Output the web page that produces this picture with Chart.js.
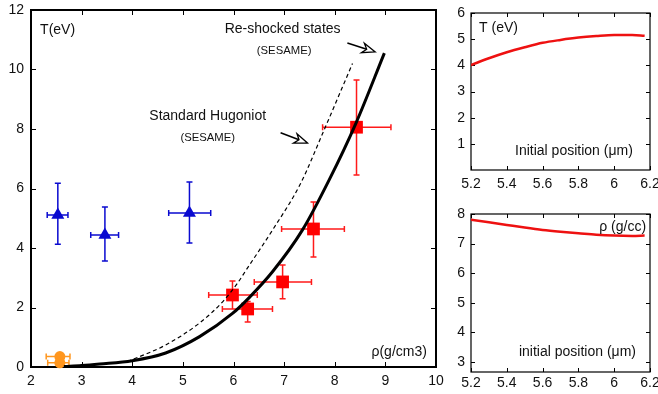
<!DOCTYPE html>
<html>
<head>
<meta charset="utf-8">
<script src="https://cdn.jsdelivr.net/npm/chart.js@4.4.1/dist/chart.umd.min.js"></script>
<style>
    html, body { margin: 0; padding: 0; background: #fff; overflow: hidden; width: 658px; height: 394px; }
    canvas { position: absolute; }
    #mainChart { left: 0; top: 0; }
    #tempChart { left: 440px; top: 0; }
    #rhoChart { left: 440px; top: 197px; }
</style>
</head>
<body>
<canvas id="mainChart" width="445" height="394"></canvas>
<canvas id="tempChart" width="230" height="197"></canvas>
<canvas id="rhoChart" width="230" height="197"></canvas>
<script>
// ---- main panel : T (eV) vs rho (g/cm3) ----
const mainXTicks = [2, 3, 4, 5, 6, 7, 8, 9, 10];
const mainYTicks = [0, 2, 4, 6, 8, 10, 12];

const hugoniotRho = [2.65, 3.0, 3.36, 4.0, 4.66, 5.33, 5.98, 6.32, 6.77, 7.36, 7.89, 8.42, 8.98];
const hugoniotT   = [0.02, 0.05, 0.10, 0.21, 0.47, 1.02, 1.80, 2.35, 3.20, 4.60, 6.29, 8.20, 10.55];

const reshockRho = [3.9, 4.0, 4.66, 5.33, 5.79, 6.08, 6.25, 6.77, 7.32, 7.76, 8.35];
const reshockT   = [0.18, 0.25, 0.74, 1.48, 2.20, 2.82, 3.26, 4.60, 6.15, 7.85, 10.2];

const redRho   = [5.98, 6.28, 6.97, 7.58, 8.43];
const redT     = [2.42, 1.95, 2.86, 4.64, 8.06];
const redRhoLo = [5.51, 5.78, 6.41, 6.95, 7.76];
const redRhoHi = [6.47, 6.77, 7.54, 8.19, 9.11];
const redTLo   = [1.95, 1.51, 2.29, 3.70, 6.45];
const redTHi   = [2.89, 2.20, 3.43, 5.55, 9.65];

const blueRho   = [2.53, 3.46, 5.13];
const blueT     = [5.11, 4.44, 5.18];
const blueRhoLo = [2.32, 3.18, 4.72];
const blueRhoHi = [2.73, 3.73, 5.55];
const blueTLo   = [4.13, 3.56, 4.17];
const blueTHi   = [6.18, 5.38, 6.22];

const orangeRho   = [2.57, 2.57];
const orangeT     = [0.35, 0.14];
const orangeRhoLo = [2.30, 2.33];
const orangeRhoHi = [2.77, 2.75];

// ---- right panels : profiles vs initial position (um) ----
const posTicks  = [5.2, 5.4, 5.6, 5.8, 6.0, 6.2];
const tempTicks = [1, 2, 3, 4, 5, 6];
const rhoTicks  = [3, 4, 5, 6, 7, 8];

const position = [5.2, 5.3, 5.4, 5.5, 5.6, 5.7, 5.8, 5.9, 6.0, 6.1, 6.17];
const tempProf = [4.01, 4.27, 4.50, 4.69, 4.86, 4.97, 5.06, 5.12, 5.16, 5.16, 5.13];
const rhoProf  = [7.81, 7.72, 7.63, 7.54, 7.46, 7.40, 7.35, 7.30, 7.27, 7.26, 7.27];

const pts = (xs, ys) => xs.map((x, i) => ({ x: x, y: ys[i] }));

const FONT = '"Liberation Sans", Arial, Helvetica, sans-serif';
Chart.defaults.font.family = FONT;
Chart.defaults.font.size = 14;
Chart.defaults.color = '#111';

// box around the plot with ticks pointing inward on all four sides
const framePlugin = {
    id: 'frame',
    beforeDatasetsDraw(chart, args, opts) {
        const { ctx, chartArea: a, scales: { x, y } } = chart;
        const len = opts.tickLength || 5;
        ctx.save();
        ctx.strokeStyle = '#000';
        ctx.lineWidth = 1;
        ctx.beginPath();
        x.ticks.forEach(t => {
            const px = Math.round(x.getPixelForValue(t.value)) + 0.5;
            ctx.moveTo(px, a.bottom); ctx.lineTo(px, a.bottom - len);
            ctx.moveTo(px, a.top); ctx.lineTo(px, a.top + len);
        });
        y.ticks.forEach(t => {
            const py = Math.round(y.getPixelForValue(t.value)) + 0.5;
            ctx.moveTo(a.left, py); ctx.lineTo(a.left + len, py);
            ctx.moveTo(a.right, py); ctx.lineTo(a.right - len, py);
        });
        ctx.stroke();
        ctx.lineWidth = opts.lineWidth || 1;
        ctx.strokeRect(a.left, a.top, a.right - a.left, a.bottom - a.top);
        ctx.restore();
    }
};

// horizontal / vertical error bars with small caps
const errorBarPlugin = {
    id: 'errorBars',
    beforeDatasetsDraw(chart, args, opts) {
        if (!opts.sets) return;
        const { ctx, scales: { x, y } } = chart;
        const cap = 3;
        ctx.save();
        ctx.lineWidth = 1.5;
        opts.sets.forEach(s => {
            ctx.strokeStyle = s.color;
            ctx.beginPath();
            s.x.forEach((xv, i) => {
                const px = x.getPixelForValue(xv);
                const py = y.getPixelForValue(s.y[i]);
                const x0 = x.getPixelForValue(s.xLo[i]);
                const x1 = x.getPixelForValue(s.xHi[i]);
                ctx.moveTo(x0, py); ctx.lineTo(x1, py);
                ctx.moveTo(x0, py - cap); ctx.lineTo(x0, py + cap);
                ctx.moveTo(x1, py - cap); ctx.lineTo(x1, py + cap);
                if (s.yLo) {
                    const y0 = y.getPixelForValue(s.yLo[i]);
                    const y1 = y.getPixelForValue(s.yHi[i]);
                    ctx.moveTo(px, y0); ctx.lineTo(px, y1);
                    ctx.moveTo(px - cap, y0); ctx.lineTo(px + cap, y0);
                    ctx.moveTo(px - cap, y1); ctx.lineTo(px + cap, y1);
                }
            });
            ctx.stroke();
        });
        ctx.restore();
    }
};

// text labels and open-headed arrows placed in data coordinates
const notesPlugin = {
    id: 'notes',
    afterDraw(chart, args, opts) {
        const { ctx, scales: { x, y } } = chart;
        ctx.save();
        (opts.arrows || []).forEach(ar => {
            const x0 = x.getPixelForValue(ar.x0), y0 = y.getPixelForValue(ar.y0);
            const x1 = x.getPixelForValue(ar.x1), y1 = y.getPixelForValue(ar.y1);
            const ang = Math.atan2(y1 - y0, x1 - x0);
            const c = Math.cos(ang), s = Math.sin(ang);
            const hl = 13, hw = 5, notch = 4;
            const bx = x1 - hl * c, by = y1 - hl * s;
            ctx.strokeStyle = '#000';
            ctx.lineWidth = 1.6;
            ctx.beginPath();
            ctx.moveTo(x0, y0); ctx.lineTo(bx + notch * c, by + notch * s);
            ctx.stroke();
            ctx.beginPath();
            ctx.moveTo(x1, y1);
            ctx.lineTo(bx - hw * s, by + hw * c);
            ctx.lineTo(bx + notch * c, by + notch * s);
            ctx.lineTo(bx + hw * s, by - hw * c);
            ctx.closePath();
            ctx.fillStyle = '#fff';
            ctx.fill();
            ctx.lineWidth = 1.3;
            ctx.stroke();
        });
        (opts.texts || []).forEach(t => {
            ctx.font = (t.size || 14) + 'px ' + FONT;
            ctx.fillStyle = '#111';
            ctx.textAlign = t.align || 'left';
            ctx.textBaseline = 'middle';
            ctx.fillText(t.text, x.getPixelForValue(t.x), y.getPixelForValue(t.y));
        });
        ctx.restore();
    }
};

function axis(min, max, ticks, size, pad, isX) {
    return {
        type: 'linear',
        min: min,
        max: max,
        grid: { display: false, drawTicks: false },
        border: { display: false },
        afterBuildTicks: s => { s.ticks = ticks.map(v => ({ value: v })); },
        afterFit: s => {
            if (isX) s.height = size; else s.width = size;
            // let layout.padding alone decide where the plot box sits
            s.paddingTop = s.paddingBottom = s.paddingLeft = s.paddingRight = 0;
        },
        ticks: {
            padding: pad,
            color: '#111',
            font: { size: 14 },
            maxRotation: 0,
            autoSkip: false,
            callback: v => String(v)
        }
    };
}

const baseOptions = (xAxis, yAxis, padding, plugins) => ({
    responsive: false,
    animation: false,
    layout: { padding: padding },
    plugins: Object.assign({
        legend: { display: false },
        tooltip: { enabled: false }
    }, plugins),
    scales: { x: xAxis, y: yAxis }
});

new Chart(document.getElementById('mainChart'), {
    type: 'scatter',
    data: {
        datasets: [
            {
                data: pts(hugoniotRho, hugoniotT),
                showLine: true, borderColor: '#000', borderWidth: 3,
                pointRadius: 0, cubicInterpolationMode: 'monotone'
            },
            {
                data: pts(reshockRho, reshockT),
                showLine: true, borderColor: '#000', borderWidth: 1.2, borderDash: [4, 3],
                pointRadius: 0, cubicInterpolationMode: 'monotone'
            },
            {
                data: pts(redRho, redT),
                pointStyle: 'rect', pointRadius: 9, backgroundColor: '#ff0000', borderColor: '#ff0000',
                borderWidth: 0, clip: 12
            },
            {
                data: pts(blueRho, blueT),
                pointStyle: 'triangle', pointRadius: 7.5, backgroundColor: '#0a0ad0', borderColor: '#0a0ad0',
                borderWidth: 0, clip: 12
            },
            {
                data: pts(orangeRho, orangeT),
                pointStyle: 'circle', pointRadius: 5.5, backgroundColor: '#ff961e', borderColor: '#ff961e',
                borderWidth: 0, clip: 12
            }
        ]
    },
    options: baseOptions(
        axis(2, 10, mainXTicks, 27, 6, true),
        axis(0, 12, mainYTicks, 31, 7, false),
        { top: 10, right: 8, left: 0, bottom: 0 },
        {
            frame: { lineWidth: 2, tickLength: 5 },
            errorBars: {
                sets: [
                    { x: redRho, y: redT, xLo: redRhoLo, xHi: redRhoHi, yLo: redTLo, yHi: redTHi, color: '#ff1a1a' },
                    { x: blueRho, y: blueT, xLo: blueRhoLo, xHi: blueRhoHi, yLo: blueTLo, yHi: blueTHi, color: '#0a0ad0' },
                    { x: orangeRho, y: orangeT, xLo: orangeRhoLo, xHi: orangeRhoHi, color: '#ff961e' }
                ]
            },
            notes: {
                texts: [
                    { x: 2.18, y: 11.33, text: 'T(eV)' },
                    { x: 6.97, y: 11.36, text: 'Re-shocked states', align: 'center' },
                    { x: 7.0, y: 10.62, text: '(SESAME)', align: 'center', size: 11.3 },
                    { x: 5.49, y: 8.44, text: 'Standard Hugoniot', align: 'center' },
                    { x: 5.49, y: 7.70, text: '(SESAME)', align: 'center', size: 11.3 },
                    { x: 9.82, y: 0.5, text: 'ρ(g/cm3)', align: 'right' }
                ],
                arrows: [
                    { x0: 8.25, y0: 10.89, x1: 8.8, y1: 10.59 },
                    { x0: 6.93, y0: 7.87, x1: 7.46, y1: 7.53 }
                ]
            }
        }
    ),
    plugins: [framePlugin, errorBarPlugin, notesPlugin]
});

new Chart(document.getElementById('tempChart'), {
    type: 'scatter',
    data: {
        datasets: [{
            data: pts(position, tempProf),
            showLine: true, borderColor: '#ee1111', borderWidth: 2.5,
            pointRadius: 0, cubicInterpolationMode: 'monotone'
        }]
    },
    options: baseOptions(
        axis(5.2, 6.2, posTicks, 27, 6, true),
        axis(0, 6, tempTicks, 31, 6, false),
        { top: 13, right: 20, left: 0, bottom: 0 },
        {
            frame: { lineWidth: 1.2, tickLength: 4 },
            notes: {
                texts: [
                    { x: 5.245, y: 5.43, text: 'T (eV)' },
                    { x: 5.446, y: 0.73, text: 'Initial position (μm)' }
                ]
            }
        }
    ),
    plugins: [framePlugin, notesPlugin]
});

new Chart(document.getElementById('rhoChart'), {
    type: 'scatter',
    data: {
        datasets: [{
            data: pts(position, rhoProf),
            showLine: true, borderColor: '#ee1111', borderWidth: 2.5,
            pointRadius: 0, cubicInterpolationMode: 'monotone'
        }]
    },
    options: baseOptions(
        axis(5.2, 6.2, posTicks, 22, 3, true),
        axis(2.66, 8, rhoTicks, 31, 6, false),
        { top: 17, right: 20, left: 0, bottom: 0 },
        {
            frame: { lineWidth: 1.2, tickLength: 4 },
            notes: {
                texts: [
                    { x: 6.178, y: 7.56, text: 'ρ (g/cc)', align: 'right' },
                    { x: 5.468, y: 3.34, text: 'initial position (μm)' }
                ]
            }
        }
    ),
    plugins: [framePlugin, notesPlugin]
});
</script>
</body>
</html>
